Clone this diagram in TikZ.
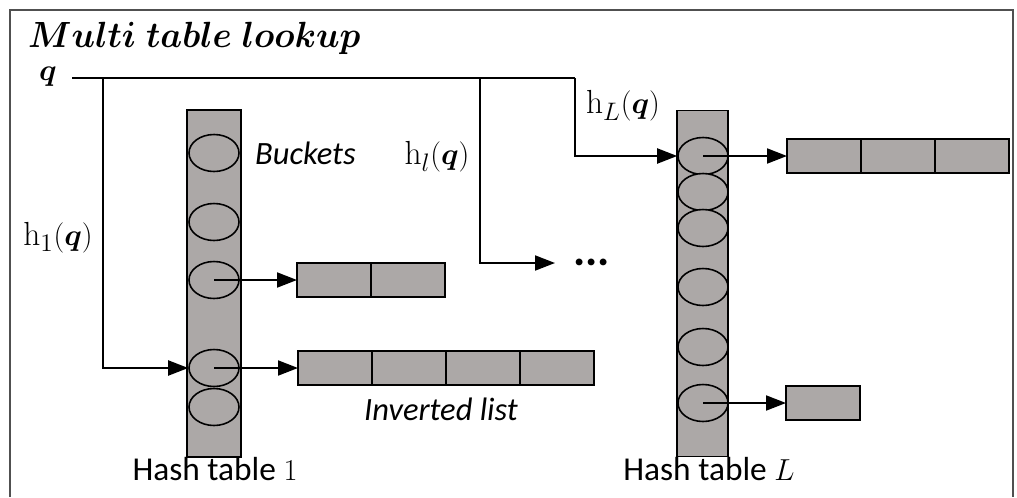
\documentclass[tikz,border=0pt]{standalone}
\usepackage{fontspec}
\usepackage{amsmath}
\newfontfamily\calib{Carlito}
\usetikzlibrary{positioning,shapes.geometric,arrows.meta}
\definecolor{cellgray}{RGB}{172,168,167}
\definecolor{framegray}{RGB}{80,80,80}

\begin{document}
\begin{tikzpicture}[x=0.02cm,y=-0.02cm,
    hashcol/.style={draw,fill=cellgray,line width=1pt,inner sep=0pt,outer sep=0pt},
    bucket/.style={ellipse,draw,fill=cellgray,line width=0.9pt,inner sep=0pt,minimum width=1cm,minimum height=0.74cm},
    cell/.style={draw,fill=cellgray,line width=1.1pt,inner sep=0pt,outer sep=0pt,minimum width=1.48cm,minimum height=0.68cm},
    link/.style={line width=1.1pt,-{Triangle[length=0.4cm,width=0.3cm]}},
    lbl/.style={font=\calib\itshape\fontsize{18.5}{20}\selectfont},
    caplbl/.style={font=\calib\fontsize{19}{22}\selectfont},
    mathlbl/.style={font=\fontsize{19}{21}\selectfont}]
  \useasboundingbox (0,0) rectangle (1017,497);
  \draw[framegray, line width=1.1pt] (10,497) -- (10,10) -- (1013,10) -- (1013,497);

  \node[anchor=west] (title) at (22,38) {\scalebox{0.95}[1]{\fontsize{20}{24}\selectfont$\boldsymbol{Multi\ table\ lookup}$}};

  % the two hash tables
  \node[hashcol, minimum width=1.08cm, minimum height=6.94cm] (tab1) at (214,283.5) {};
  \node[hashcol, minimum width=1.02cm, minimum height=6.92cm] (tabL) at (702.5,283.5) {};

  \node[bucket] (b11) at (214,153) {};
  \node[bucket] (b12) at (214,222) {};
  \node[bucket] (b13) at (214,280) {};
  \node[bucket] (b14) at (214,368) {};
  \node[bucket] (b15) at (214,407) {};

  \node[bucket] (bL1) at (703,156) {};
  \node[bucket] (bL2) at (703,192) {};
  \node[bucket] (bL3) at (703,228) {};
  \node[bucket] (bL4) at (703,287) {};
  \node[bucket] (bL5) at (703,347) {};
  \node[bucket] (bL6) at (703,403) {};

  % inverted lists
  \node[cell] (a1) at (334,280) {};
  \node[cell, right=0pt of a1] (a2) {};

  \node[cell] (c1) at (335,368) {};
  \node[cell, right=0pt of c1] (c2) {};
  \node[cell, right=0pt of c2] (c3) {};
  \node[cell, right=0pt of c3] (c4) {};

  \node[cell] (d1) at (824,156) {};
  \node[cell, right=0pt of d1] (d2) {};
  \node[cell, right=0pt of d2] (d3) {};

  \node[cell] (e1) at (823,403) {};

  \draw[link] (b13.center) -- (b13.center -| a1.west);
  \draw[link] (b14.center) -- (b14.center -| c1.west);
  \draw[link] (bL1.center) -- (bL1.center -| d1.west);
  \draw[link] (bL6.center) -- (bL6.center -| e1.west);

  % query and hash functions
  \node[mathlbl] (q) at (48,77) {$\boldsymbol{q}$};
  \coordinate (qs) at (72,78);
  \coordinate (j1) at (103,78);
  \coordinate (jl) at (480,78);
  \coordinate (jL) at (575,78);
  \node[anchor=west, inner sep=0pt, font=\calib\bfseries\fontsize{26}{28}\selectfont] (dots) at (573,262) {...};

  \draw[line width=1.1pt] (qs) -- (jL);
  \draw[link] (jL) |- (bL1.west);
  \draw[link] (j1) |- (b14.west);
  \draw[link] (jl) |- ([xshift=-0.36cm]dots.west |- 0,263);

  \node[mathlbl] (h1) at (58,238) {$\mathrm{h}_1(\boldsymbol{q})$};
  \node[mathlbl] (hl) at (437,157) {$\mathrm{h}_l(\boldsymbol{q})$};
  \node[mathlbl] (hL) at (623,106) {$\mathrm{h}_L(\boldsymbol{q})$};

  \node[lbl, anchor=west] (bkt) at (249,153) {Buckets};
  \node[lbl] (inv) at (441,409) {Inverted list};
  \node[caplbl] (cap1) at (215,469) {Hash table $1$};
  \node[caplbl] (capL) at (709,469) {Hash table $L$};
\end{tikzpicture}
\end{document}
